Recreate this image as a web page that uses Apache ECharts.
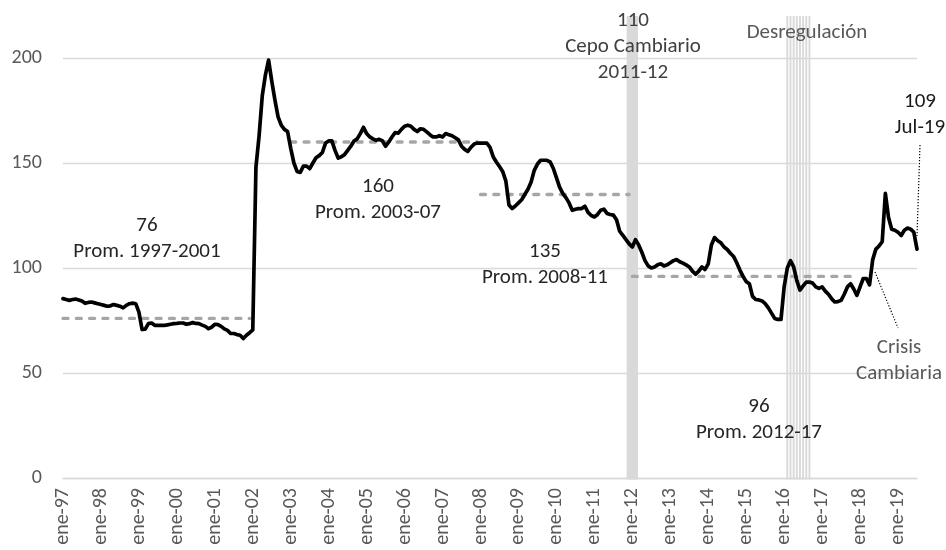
<!DOCTYPE html>
<html>
<head>
<meta charset="utf-8">
<script src="https://cdn.jsdelivr.net/npm/echarts@6/dist/echarts.min.js"></script>
<style>
  html, body { margin: 0; padding: 0; background: #ffffff; }
  #chart { width: 946px; height: 550px; }
</style>
</head>
<body>
<div id="chart"></div>
<script>
// Monthly categories: ene-97 ... jul-19
const monthNames = ['ene', 'feb', 'mar', 'abr', 'may', 'jun', 'jul', 'ago', 'sep', 'oct', 'nov', 'dic'];
const firstYear = 1997;
const lastYear = 2019;
const monthsInLastYear = 7;

const categories = [];
for (let y = firstYear; y <= lastYear; y++) {
  const n = y === lastYear ? monthsInLastYear : 12;
  for (let m = 0; m < n; m++) categories.push(monthNames[m] + '-' + String(y).slice(2));
}

// Real exchange rate index, monthly
const rer = [
  85.4, 85.0, 84.6, 85.0, 85.2, 84.8, 84.3, 83.2, 83.6, 83.8, 83.4, 83.0,           // 1997
  82.6, 82.2, 81.8, 82.0, 82.6, 82.2, 81.8, 81.0, 82.2, 83.0, 83.3, 83.0,           // 1998
  79.0, 70.7, 70.9, 73.5, 73.8, 72.7, 72.7, 72.7, 72.7, 72.9, 73.2, 73.5,           // 1999
  73.6, 73.8, 73.8, 73.2, 73.5, 74.0, 73.6, 73.5, 72.8, 72.2, 71.1, 71.8,           // 2000
  73.2, 73.0, 72.2, 71.0, 70.3, 68.8, 68.8, 68.3, 68.0, 66.4, 68.0, 69.2,           // 2001
  70.5, 148.0, 163.0, 182.0, 192.0, 199.0, 189.0, 180.0, 172.0, 168.0, 166.0, 165.0, // 2002
  157.0, 150.0, 146.0, 145.5, 148.5, 148.5, 147.3, 150.0, 152.5, 153.5, 155.0, 159.5, // 2003
  160.5, 160.5, 156.0, 152.3, 153.0, 154.0, 156.0, 158.0, 160.5, 161.5, 164.0, 167.0, // 2004
  164.0, 162.4, 161.5, 160.8, 161.3, 160.5, 158.0, 160.0, 162.4, 164.5, 164.2, 166.0, // 2005
  167.5, 168.0, 167.5, 166.0, 165.0, 166.3, 166.0, 164.8, 163.5, 162.4, 162.4, 163.0, // 2006
  162.4, 164.0, 163.5, 163.0, 162.0, 161.0, 158.0, 156.5, 155.5, 157.5, 159.0, 159.5, // 2007
  159.5, 159.5, 159.5, 157.5, 153.0, 150.5, 148.3, 146.0, 141.5, 130.0, 128.3, 129.5, // 2008
  131.0, 132.5, 135.0, 137.5, 141.0, 146.5, 149.5, 151.3, 151.3, 151.3, 150.5, 147.5, // 2009
  143.0, 138.5, 135.5, 133.5, 131.0, 127.5, 128.0, 128.3, 128.3, 129.4, 126.5, 125.0, // 2010
  124.3, 125.5, 127.5, 128.0, 126.0, 125.5, 125.2, 123.0, 117.5, 115.5, 113.5, 111.5, // 2011
  110.0, 113.5, 111.0, 107.5, 103.5, 101.0, 100.0, 100.5, 101.5, 102.0, 101.0, 101.5, // 2012
  102.5, 103.5, 104.0, 103.0, 102.3, 101.5, 100.5, 98.5, 97.0, 98.5, 100.5, 99.3,     // 2013
  102.0, 111.0, 114.5, 113.0, 112.0, 110.0, 108.8, 107.0, 105.5, 102.5, 99.0, 96.0,   // 2014
  93.5, 92.5, 86.5, 85.0, 84.8, 84.3, 83.0, 81.0, 78.5, 76.0, 75.5, 75.5,             // 2015
  91.0, 100.0, 103.5, 100.5, 94.0, 89.5, 91.5, 93.3, 93.3, 92.8, 91.0, 90.3,          // 2016
  91.0, 89.0, 87.5, 85.4, 83.8, 84.0, 84.6, 87.5, 91.0, 92.5, 90.0, 87.0,             // 2017
  91.0, 95.0, 95.0, 92.0, 104.0, 109.0, 110.5, 112.5, 135.5, 124.0, 118.5, 118.0,     // 2018
  117.0, 115.5, 118.0, 119.0, 118.5, 117.0, 109.0                                     // 2019
];

// Period averages
const averages = [76, 160, 135, 96];
const averagePeriods = ['1997-2001', '2003-07', '2008-11', '2012-17'];
const averageStart = ['ene-97', 'ene-03', 'ene-08', 'ene-12'];
const averageEnd = ['dic-01', 'dic-07', 'dic-11', 'dic-17'];

// Shaded periods
const cepoMonths = ['dic-11', 'ene-12', 'feb-12'];
const desregMonths = ['feb-16', 'mar-16', 'abr-16', 'may-16', 'jun-16', 'jul-16', 'ago-16', 'sep-16'];
const bandTop = 220;

// Value axis ticks
const yTicks = [0, 50, 100, 150, 200];

const FONT = 'Carlito, Calibri, Lato, sans-serif';
const GRID = '#d9d9d9';

// Shaded month columns: [category index, height, width as share of one month]
function bandItems(months, widthShare) {
  return months.map(m => [categories.indexOf(m), bandTop, widthShare]);
}
const bandData = bandItems(cepoMonths, 1.6).concat(bandItems(desregMonths, 0.6));

function renderBand(params, api) {
  const idx = api.value(0);
  const top = api.coord([idx, api.value(1)]);
  const base = api.coord([idx, 0]);
  const w = api.size([1, 0])[0] * api.value(2);
  return {
    type: 'rect',
    shape: { x: top[0] - w / 2, y: top[1], width: w, height: base[1] - top[1] + 1.5 },
    style: { fill: GRID }
  };
}

const averageSeries = averages.map((avg, k) => {
  const s = categories.indexOf(averageStart[k]);
  const e = categories.indexOf(averageEnd[k]);
  return {
    type: 'line',
    name: 'Prom. ' + averagePeriods[k],
    data: categories.map((c, i) => (i >= s && i <= e ? avg : null)),
    showSymbol: false,
    silent: true,
    z: 3,
    lineStyle: { color: '#a6a6a6', width: 3.3, type: [5, 8.3], cap: 'round' }
  };
});

const cepoIdx = categories.indexOf('ene-12');
const lastIdx = rer.length - 1;

function textBlock(lines, x, y, lineH, color) {
  return lines.map((t, j) => ({
    type: 'text',
    x: x,
    y: y + j * lineH,
    z: 100,
    silent: true,
    style: {
      text: t,
      fill: color,
      font: '21px ' + FONT,
      textAlign: 'center',
      textVerticalAlign: 'middle'
    }
  }));
}

const averageTextPos = [[147, 226], [378, 187], [545, 252], [759, 407]];
let graphics = [];
averages.forEach((avg, k) => {
  graphics = graphics.concat(textBlock([String(avg), 'Prom. ' + averagePeriods[k]],
    averageTextPos[k][0], averageTextPos[k][1], 26, '#262626'));
});
graphics = graphics.concat(textBlock([String(rer[cepoIdx]), 'Cepo Cambiario', '2011-12'], 633, 21, 26, '#404040'));
graphics = graphics.concat(textBlock(['Desregulación'], 807, 33, 26, '#595959'));
graphics = graphics.concat(textBlock([String(rer[lastIdx]), 'Jul-19'], 920, 102, 26, '#1a1a1a'));
graphics = graphics.concat(textBlock(['Crisis', 'Cambiaria'], 899, 348, 26, '#595959'));
graphics.push(
  { type: 'line', silent: true, z: 100, shape: { x1: 920, y1: 145, x2: 917, y2: 236 },
    style: { stroke: '#000', lineWidth: 1.2, lineDash: [1.2, 1.8] } },
  { type: 'line', silent: true, z: 100, shape: { x1: 875, y1: 272, x2: 898, y2: 328 },
    style: { stroke: '#000', lineWidth: 1.2, lineDash: [1.2, 1.8] } }
);

const chart = echarts.init(document.getElementById('chart'), null, { renderer: 'canvas' });
chart.setOption({
  animation: false,
  backgroundColor: '#ffffff',
  grid: { left: 63, right: 29, top: 16, bottom: 72, containLabel: false },
  xAxis: {
    type: 'category',
    data: categories,
    boundaryGap: false,
    axisLine: { show: true, lineStyle: { color: GRID, width: 1.3 } },
    axisTick: { show: false },
    splitLine: { show: false },
    axisLabel: {
      interval: 11,
      rotate: 90,
      margin: 10,
      color: '#595959',
      fontSize: 20,
      fontFamily: FONT
    }
  },
  yAxis: {
    type: 'value',
    min: 0,
    max: bandTop,
    interval: 50,
    axisLine: { show: false },
    axisTick: { show: false },
    axisLabel: {
      margin: 21,
      color: '#595959',
      fontSize: 20,
      fontFamily: FONT,
      formatter: v => (yTicks.includes(v) ? String(v) : '')
    },
    splitLine: {
      show: true,
      lineStyle: { color: [GRID, GRID, GRID, GRID, GRID, 'rgba(0,0,0,0)'], width: 1.3 }
    }
  },
  series: [
    {
      type: 'custom',
      name: 'Periodos',
      data: bandData,
      renderItem: renderBand,
      encode: { x: 0, y: 1 },
      clip: false,
      silent: true,
      z: 1
    },
    ...averageSeries,
    {
      type: 'line',
      name: 'Tipo de cambio real',
      data: rer,
      showSymbol: false,
      z: 4,
      lineStyle: { color: '#000000', width: 3.7, join: 'round', cap: 'round' }
    }
  ],
  graphic: graphics
});
</script>
</body>
</html>
